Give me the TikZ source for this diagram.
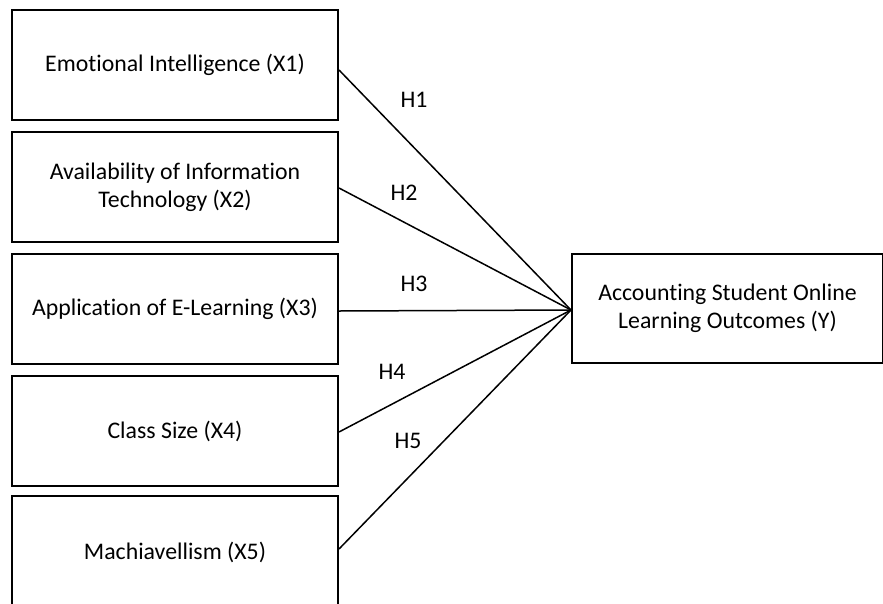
\documentclass[tikz,border=0pt]{standalone}
\usepackage{fontspec}
\setmainfont{Carlito}[Ligatures={NoCommon}]
\begin{document}
\begin{tikzpicture}[x=1pt,y=-1pt,
  varbox/.style={draw=black,line width=2pt,rectangle,minimum width=326pt,minimum height=110pt,
    inner sep=0pt,align=center,font=\fontsize{23.8}{28}\selectfont,anchor=north west},
  hlabel/.style={font=\fontsize{23.8}{28}\selectfont,inner sep=0pt},
  link/.style={draw=black,line width=1.5pt}]
\useasboundingbox (0,0) rectangle (883,603);
\node[varbox] (x1) at (11,9) {Emotional Intelligence (X1)};
\node[varbox] (x2) at (11,131) {Availability of Information\\Technology (X2)};
\node[varbox] (x3) at (11,253) {Application of E-Learning (X3)};
\node[varbox] (x4) at (11,375) {Class Size (X4)};
\node[varbox,minimum height=116pt] (x5) at (11,495) {\raisebox{6pt}{Machiavellism (X5)}};
\node[varbox,minimum width=311pt,minimum height=109pt] (y) at (571,253) {Accounting Student Online\\Learning Outcomes (Y)};
\coordinate (tip) at (571,310);
\draw[link] ([yshift=-5pt]x1.east) -- (tip);
\draw[link] ([yshift=-1pt]x2.east) -- (tip);
\draw[link] ([yshift=-2pt]x3.east) -- (tip);
\draw[link] ([yshift=-1pt]x4.east) -- (tip);
\draw[link] ([yshift=5pt]x5.east) -- (tip);
\node[hlabel] (h1) at (414,100) {H1};
\node[hlabel] (h2) at (404,193) {H2};
\node[hlabel] (h3) at (414,284) {H3};
\node[hlabel] (h4) at (392,372) {H4};
\node[hlabel] (h5) at (408,441) {H5};
\end{tikzpicture}
\end{document}
